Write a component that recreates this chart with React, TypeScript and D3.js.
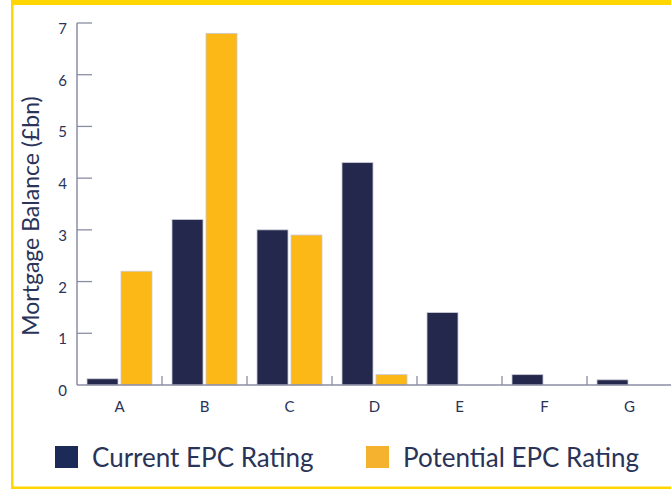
import React from "react";
import * as d3 from "d3";

const categories = ["A", "B", "C", "D", "E", "F", "G"];
const currentValues = [0.12, 3.2, 3.0, 4.3, 1.4, 0.2, 0.1];
const potentialValues = [2.2, 6.8, 2.9, 0.2, 0, 0, 0];
const yTicks = [0, 1, 2, 3, 4, 5, 6, 7];
const seriesNames = ["Current EPC Rating", "Potential EPC Rating"];

const W = 671;
const H = 489;
const FONT = "Lato, 'Open Sans', sans-serif";
const TEXT = "#2a3358";
const AXIS = "#8b8da3";
const NAVY = "#25284d";
const YELLOW = "#fbb817";
const BORDER = "#ffd600";

export default function App() {
  const x = d3.scaleBand<string>().domain(categories).range([77, 672]).paddingInner(0).paddingOuter(0);
  const x1 = d3
    .scaleBand<string>()
    .domain(["current", "potential"])
    .range([10, 75])
    .paddingInner(0.088)
    .paddingOuter(0);
  const y = d3.scaleLinear().domain([0, 7]).range([385, 23]);
  const bw = x1.bandwidth();

  const series = [
    { key: "current", values: currentValues, color: NAVY },
    { key: "potential", values: potentialValues, color: YELLOW },
  ];

  return (
    <svg
      width={W}
      height={H}
      style={{ position: "absolute", left: 0, top: 0, background: "#fff" }}
      fontFamily={FONT}
    >
      {/* border */}
      <rect x={11} y={0} width={W - 11} height={5} fill={BORDER} />
      <rect x={11} y={0} width={2.5} height={H} fill={BORDER} />
      <rect x={11} y={486.5} width={W - 11} height={2.5} fill={BORDER} />

      {/* bars */}
      {series.map((s) =>
        categories.map((c, i) => {
          const v = s.values[i];
          const x0 = (x(c) as number) + (x1(s.key) as number);
          const yTop = y(v);
          return (
            <rect
              key={s.key + c}
              x={x0}
              y={yTop}
              width={bw}
              height={Math.max(0, y(0) - yTop)}
              fill={s.color}
              stroke="#c9cad4"
              strokeWidth={0.8}
            />
          );
        })
      )}

      {/* y axis */}
      <line x1={77} x2={77} y1={y(7)} y2={y(0)} stroke={AXIS} strokeWidth={1.5} />
      {yTicks.map((t) => (
        <g key={t}>
          {t > 0 && <line x1={77} x2={92} y1={y(t)} y2={y(t)} stroke={AXIS} strokeWidth={1.3} />}
          <text x={67} y={y(t) + 11} textAnchor="end" fontSize={15} fill={TEXT}>
            {t}
          </text>
        </g>
      ))}

      {/* x axis */}
      <line x1={77} x2={W} y1={y(0)} y2={y(0)} stroke={AXIS} strokeWidth={1.5} />
      {categories.map((c) => (
        <line
          key={"t" + c}
          x1={(x(c) as number) + x.bandwidth()}
          x2={(x(c) as number) + x.bandwidth()}
          y1={y(0)}
          y2={y(0) - 9}
          stroke={AXIS}
          strokeWidth={1.3}
        />
      ))}
      {categories.map((c) => (
        <text
          key={"l" + c}
          x={(x(c) as number) + x.bandwidth() / 2}
          y={412}
          textAnchor="middle"
          fontSize={15}
          fill={TEXT}
        >
          {c}
        </text>
      ))}

      {/* y label */}
      <text
        transform={`translate(39, 216) rotate(-90)`}
        textAnchor="middle"
        fontSize={23}
        fill={TEXT}
      >
        Mortgage Balance (£bn)
      </text>

      {/* legend */}
      <rect x={55} y={446} width={23} height={22} fill="#1b2a56" />
      <text x={92} y={467} fontSize={26} fill={TEXT}>
        {seriesNames[0]}
      </text>
      <rect x={366} y={446} width={23} height={22} fill="#f5b22e" />
      <text x={403} y={467} fontSize={26} fill={TEXT}>
        {seriesNames[1]}
      </text>
    </svg>
  );
}
